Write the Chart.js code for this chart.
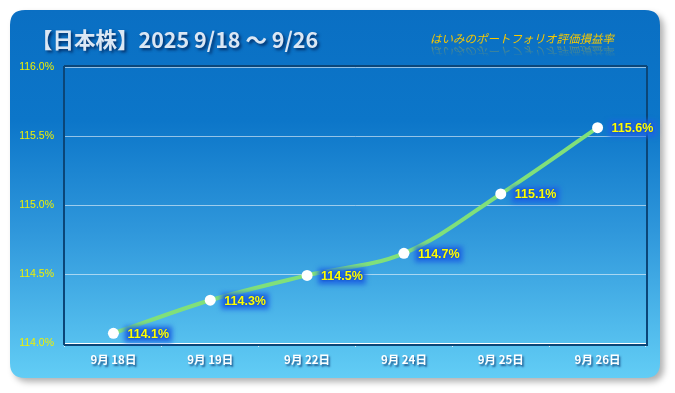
<!DOCTYPE html>
<html><head><meta charset="utf-8">
<script src="https://cdn.jsdelivr.net/npm/chart.js@4/dist/chart.umd.min.js"></script>
<style>html,body{margin:0;padding:0;background:#fff;}#wrap{width:675px;height:393px;}</style>
</head><body><div id="wrap"><canvas id="c" width="675" height="393"></canvas></div>
<script>
const categories = ['9月 18日','9月 19日','9月 22日','9月 24日','9月 25日','9月 26日'];
const values = [114.07, 114.31, 114.49, 114.65, 115.08, 115.56];
const valueLabels = ['114.1%','114.3%','114.5%','114.7%','115.1%','115.6%'];
const titleText = '【日本株】2025 9/18 ～ 9/26';
const subtitleText = 'はいみのポートフォリオ評価損益率';

function rr(ctx,x,y,w,h,r){ctx.beginPath();ctx.moveTo(x+r,y);ctx.lineTo(x+w-r,y);ctx.quadraticCurveTo(x+w,y,x+w,y+r);ctx.lineTo(x+w,y+h-r);ctx.quadraticCurveTo(x+w,y+h,x+w-r,y+h);ctx.lineTo(x+r,y+h);ctx.quadraticCurveTo(x,y+h,x,y+h-r);ctx.lineTo(x,y+r);ctx.quadraticCurveTo(x,y,x+r,y);ctx.closePath();}

const bgPlugin = {
  id:'bg',
  beforeDraw(chart){
    const ctx=chart.ctx;
    ctx.save();
    ctx.fillStyle='#fff';ctx.fillRect(0,0,675,393);
    ctx.shadowColor='rgba(0,0,0,0.3)';ctx.shadowBlur=6;ctx.shadowOffsetX=4;ctx.shadowOffsetY=4;
    const g=ctx.createLinearGradient(0,10,0,378);
    g.addColorStop(0,'#0a6fc3');g.addColorStop(0.3,'#0c76c9');g.addColorStop(0.6,'#2f97db');g.addColorStop(1,'#62cdf5');
    ctx.fillStyle=g;rr(ctx,10,10,650,368,15);ctx.fill();
    ctx.restore();
    // title
    ctx.save();
    ctx.font='bold 21.5px "Noto Sans CJK JP"';ctx.textBaseline='middle';ctx.textAlign='left';
    ctx.shadowColor='rgba(0,30,80,0.8)';ctx.shadowBlur=3;ctx.shadowOffsetX=2;ctx.shadowOffsetY=2;
    ctx.fillStyle='#dbe7f4';ctx.fillText(titleText,31,40);
    ctx.restore();
    // subtitle + reflection
    ctx.save();
    ctx.font='italic 11.5px "Noto Sans CJK JP"';ctx.textBaseline='middle';ctx.textAlign='left';
    ctx.save();
    ctx.translate(0,90);ctx.scale(1,-1);
    const rg=ctx.createLinearGradient(0,33,0,45);
    rg.addColorStop(0,'rgba(245,196,0,0)');rg.addColorStop(1,'rgba(245,196,0,0.45)');
    ctx.fillStyle=rg;
    ctx.fillText(subtitleText,430,39);
    ctx.restore();
    ctx.fillStyle='#f7c800';
    ctx.fillText(subtitleText,430,39);
    ctx.restore();
  },
  beforeDatasetsDraw(chart){
    const ctx=chart.ctx,a=chart.chartArea;
    ctx.save();
    ctx.strokeStyle='#0b4678';ctx.lineWidth=2;
    ctx.beginPath();ctx.moveTo(a.left-1,a.top-1);ctx.lineTo(a.left-1,a.bottom+2);ctx.stroke();
    ctx.beginPath();ctx.moveTo(a.right+1,a.top-1);ctx.lineTo(a.right+1,a.bottom+2);ctx.stroke();
    ctx.beginPath();ctx.moveTo(a.left-1,a.top-1);ctx.lineTo(a.right+1,a.top-1);ctx.stroke();
    ctx.beginPath();ctx.moveTo(a.left-1,a.bottom+2);ctx.lineTo(a.right+2,a.bottom+2);ctx.stroke();
    ctx.restore();
  },
  afterDatasetsDraw(chart){
    const ctx=chart.ctx;const meta=chart.getDatasetMeta(0);
    ctx.save();
    ctx.font='bold 12.5px "Liberation Sans"';ctx.textBaseline='middle';ctx.textAlign='left';
    meta.data.forEach((p,i)=>{
      const x=p.x+14,y=p.y+1;
      const w=ctx.measureText(valueLabels[i]).width;
      ctx.save();
      ctx.filter='blur(2.5px)';
      ctx.fillStyle='rgba(28,100,225,0.95)';
      ctx.fillRect(x-3,y-8,w+6,16);
      ctx.restore();
      ctx.save();
      ctx.shadowColor='rgba(10,60,160,0.9)';ctx.shadowBlur=2;
      ctx.fillStyle='#ffff00';ctx.fillText(valueLabels[i],x,y);
      ctx.restore();
    });
    ctx.restore();
  }
};

new Chart(document.getElementById('c'),{
  type:'line',
  data:{labels:categories,datasets:[{data:values,borderColor:'#80e07a',borderWidth:4,tension:0.35,
    pointRadius:5.5,pointHoverRadius:5.5,pointBackgroundColor:'#ffffff',pointBorderWidth:0,pointBorderColor:'#fff'}]},
  plugins:[bgPlugin],
  options:{
    responsive:false,animation:false,devicePixelRatio:1,
    layout:{padding:{left:0,top:67,right:29,bottom:0}},
    plugins:{legend:{display:false},tooltip:{enabled:false}},
    scales:{
      x:{offset:true,
        grid:{offset:true,drawOnChartArea:false,drawTicks:true,tickLength:4,color:'rgba(255,255,255,0.8)'},
        border:{display:true,color:'#ffffff',width:1},
        ticks:{color:'#ffffff',font:{family:'"Noto Sans CJK JP"',size:11.5,weight:'bold'},padding:6,maxRotation:0},
        afterFit(s){
          s.height=50;
          if(!s._patched){
            const orig=s.drawLabels.bind(s);
            s.drawLabels=function(ca){const c=s.ctx;c.save();c.shadowColor='rgba(0,40,100,0.7)';c.shadowBlur=2;c.shadowOffsetX=1.5;c.shadowOffsetY=1.5;orig(ca);c.restore();};
            s._patched=true;
          }
        }
      },
      y:{min:114,max:116,
        grid:{drawTicks:false,color:(c)=>c.tick&&c.tick.value===114?'rgba(0,0,0,0)':'rgba(255,255,255,0.55)',lineWidth:1},
        border:{display:false},
        ticks:{stepSize:0.5,color:'#f0f000',font:{family:'"Liberation Sans"',size:10.5},padding:11,
          callback:(v)=>v.toFixed(1)+'%'},
        afterFit(s){s.width=65;}
      }
    }
  }
});
</script></body></html>
